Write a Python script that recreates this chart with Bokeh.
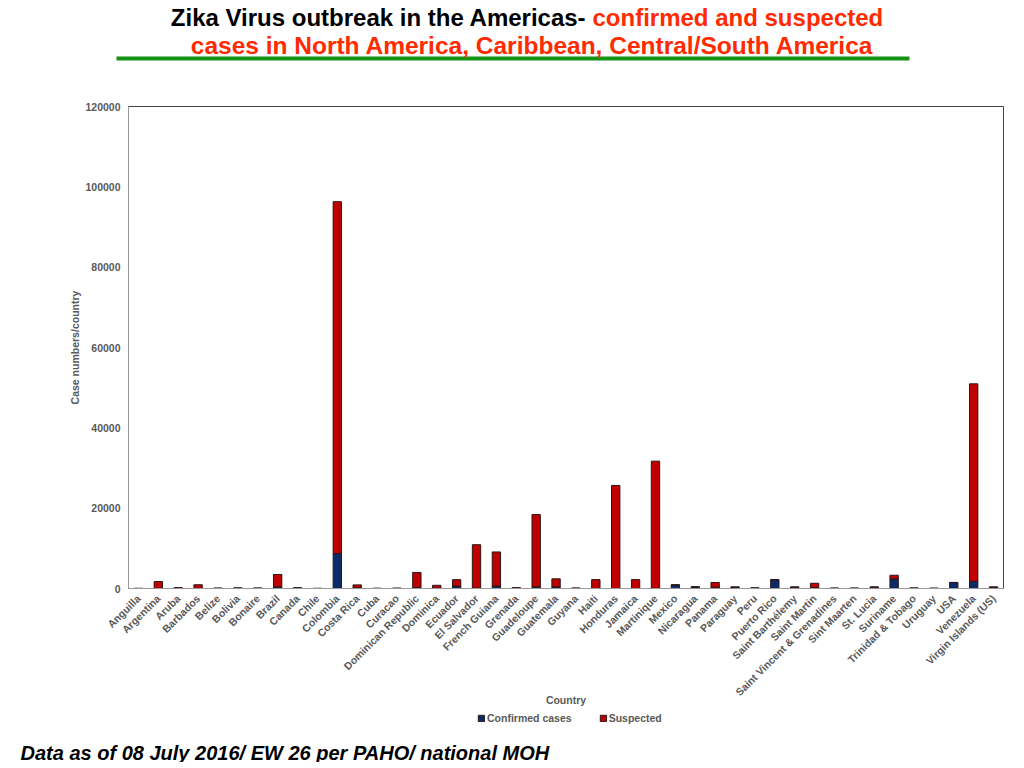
from bokeh.plotting import figure
from bokeh.layouts import column
from bokeh.models import (FactorRange, Range1d, Label, Legend, LegendItem,
                          FixedTicker, BasicTickFormatter)
from bokeh.embed import file_html
from bokeh.resources import INLINE

countries = ["Anguilla", "Argentina", "Aruba", "Barbados", "Belize", "Bolivia", "Bonaire",
             "Brazil", "Canada", "Chile", "Colombia", "Costa Rica", "Cuba", "Curacao",
             "Dominican Republic", "Dominica", "Ecuador", "El Salvador", "French Guiana",
             "Grenada", "Guadeloupe", "Guatemala", "Guyana", "Haiti", "Honduras", "Jamaica",
             "Martinique", "Mexico", "Nicaragua", "Panama", "Paraguay", "Peru", "Puerto Rico",
             "Saint Barthélemy", "Saint Martin", "Saint Vincent & Grenadines", "Sint Maarten",
             "St. Lucia", "Suriname", "Trinidad & Tobago", "Uruguay", "USA", "Venezuela",
             "Virgin Islands (US)"]

confirmed = [10, 30, 20, 30, 20, 40, 30, 400, 150, 20, 8700, 150, 30, 30,
             200, 50, 600, 100, 600, 50, 400, 400, 40, 10, 10, 10,
             50, 900, 400, 300, 300, 100, 2200,
             300, 200, 50, 50, 300, 2400, 50, 50, 1500, 1750, 300]

suspected = [40, 1700, 200, 900, 100, 120, 100, 3100, 0, 0, 87600, 750, 0, 50,
             3800, 750, 1600, 10800, 8500, 150, 18000, 2000, 80, 2200, 25650, 2200,
             31650, 0, 0, 1200, 100, 50, 0,
             100, 1100, 50, 50, 100, 900, 100, 0, 0, 49200, 100]

y_ticks = [0, 20000, 40000, 60000, 80000, 100000, 120000]

title_black = "Zika Virus outbreak in the Americas-"
title_red_1 = "confirmed and suspected"
title_red_2 = "cases in North America, Caribbean, Central/South America"
footer_text = "Data as of 08 July 2016/ EW 26 per PAHO/ national MOH"
series_names = ["Confirmed cases", "Suspected"]
x_title = "Country"
y_title = "Case numbers/country"

NAVY = "#0c2a68"
RED = "#c00000"
EDGE = "#2a1515"
GRAY = "#595959"
TITLE_RED = "#ff2a00"
GREEN = "#139213"
FONT = "Liberation Sans"
W = 1008
NAN = float("nan")


def decor_figure(h, y_top, y_bottom):
    f = figure(width=W, height=h, output_backend="svg", toolbar_location=None,
               x_range=Range1d(0, W), y_range=Range1d(y_bottom, y_top),
               min_border=0, min_border_left=0, min_border_right=0,
               min_border_top=0, min_border_bottom=0)
    f.frame_align = False
    f.axis.visible = False
    f.grid.visible = False
    f.outline_line_color = None
    f.background_fill_color = "white"
    f.border_fill_color = "white"
    return f


# ---- title strip (page y 0..100)
t = decor_figure(100, 0, 100)
t.add_layout(Label(x=586, y=17, text=title_black, text_align="right", text_baseline="middle",
                   text_font=FONT, text_font_style="bold", text_font_size="24px",
                   text_color="black"))
t.add_layout(Label(x=592, y=17, text=title_red_1, text_align="left", text_baseline="middle",
                   text_font=FONT, text_font_style="bold", text_font_size="24px",
                   text_color=TITLE_RED))
t.add_layout(Label(x=532, y=45, text=title_red_2, text_align="center", text_baseline="middle",
                   text_font=FONT, text_font_style="bold", text_font_size="24.5px",
                   text_color=TITLE_RED))
t.quad(left=[116], right=[909], top=[56], bottom=[60], fill_color=GREEN, line_color=None)

# ---- main chart (page y 100..712)
data = {"country": countries, "confirmed": confirmed, "suspected": suspected}
p = figure(width=W, height=612, output_backend="svg", toolbar_location=None,
           x_range=FactorRange(*countries, range_padding=0),
           y_range=Range1d(0, 120000),
           min_border_left=128, min_border_right=5, min_border_top=6, min_border_bottom=124)
p.frame_align = False

p.vbar_stack(["confirmed", "suspected"], x="country", width=0.42, source=data,
             color=[NAVY, RED], line_color=EDGE, line_width=1)

p.xgrid.grid_line_color = None
p.ygrid.grid_line_color = None
p.outline_line_color = "#444444"
p.outline_line_width = 1
p.background_fill_color = "white"
p.border_fill_color = "white"

p.yaxis.ticker = FixedTicker(ticks=y_ticks)
p.yaxis.formatter = BasicTickFormatter(use_scientific=False)
for ax in (p.xaxis[0], p.yaxis[0]):
    ax.axis_line_color = "#999999"
    ax.major_tick_line_color = None
    ax.minor_tick_line_color = None
    ax.major_tick_out = 0
    ax.major_tick_in = 0
    ax.minor_tick_out = 0
    ax.minor_tick_in = 0
    ax.major_label_text_font = FONT
    ax.major_label_text_font_style = "bold"
    ax.major_label_text_font_size = "10.5px"
    ax.major_label_text_color = GRAY
    ax.axis_label_text_font = FONT
    ax.axis_label_text_font_style = "bold"
    ax.axis_label_text_font_size = "10.5px"
    ax.axis_label_text_color = GRAY
p.yaxis.major_label_standoff = 8
p.xaxis.major_label_standoff = 8
p.xaxis.major_label_orientation = 0.785398
p.yaxis.axis_label = y_title
p.yaxis.axis_label_standoff = 1
p.xaxis.axis_label = x_title
p.xaxis.axis_label_standoff = -11

# ---- bottom strip: legend + footer (page y 712..762)
b = decor_figure(50, 712, 762)
# legend proxies with an undrawable (NaN) element, so only the legend swatch is shown
r_conf = b.vbar(x=[NAN], top=[NAN], bottom=[NAN], width=8, fill_color=NAVY, line_color=EDGE)
r_susp = b.vbar(x=[NAN], top=[NAN], bottom=[NAN], width=8, fill_color=RED, line_color=EDGE)
legend = Legend(items=[LegendItem(label=series_names[0], renderers=[r_conf]),
                       LegendItem(label=series_names[1], renderers=[r_susp])],
                location=(477, 38), orientation="horizontal",
                glyph_width=8, glyph_height=8, label_standoff=2, spacing=27,
                label_height=10, label_text_font=FONT, label_text_font_style="bold",
                label_text_font_size="10.5px", label_text_color=GRAY,
                padding=0, margin=0, border_line_color=None, background_fill_alpha=0)
b.add_layout(legend, "center")
b.add_layout(Label(x=20, y=752, text=footer_text, text_align="left", text_baseline="middle",
                   text_font=FONT, text_font_style="bold italic", text_font_size="20px",
                   text_color="black"))

layout = column(t, p, b, spacing=0)
open("out.html", "w").write(file_html(layout, INLINE))
